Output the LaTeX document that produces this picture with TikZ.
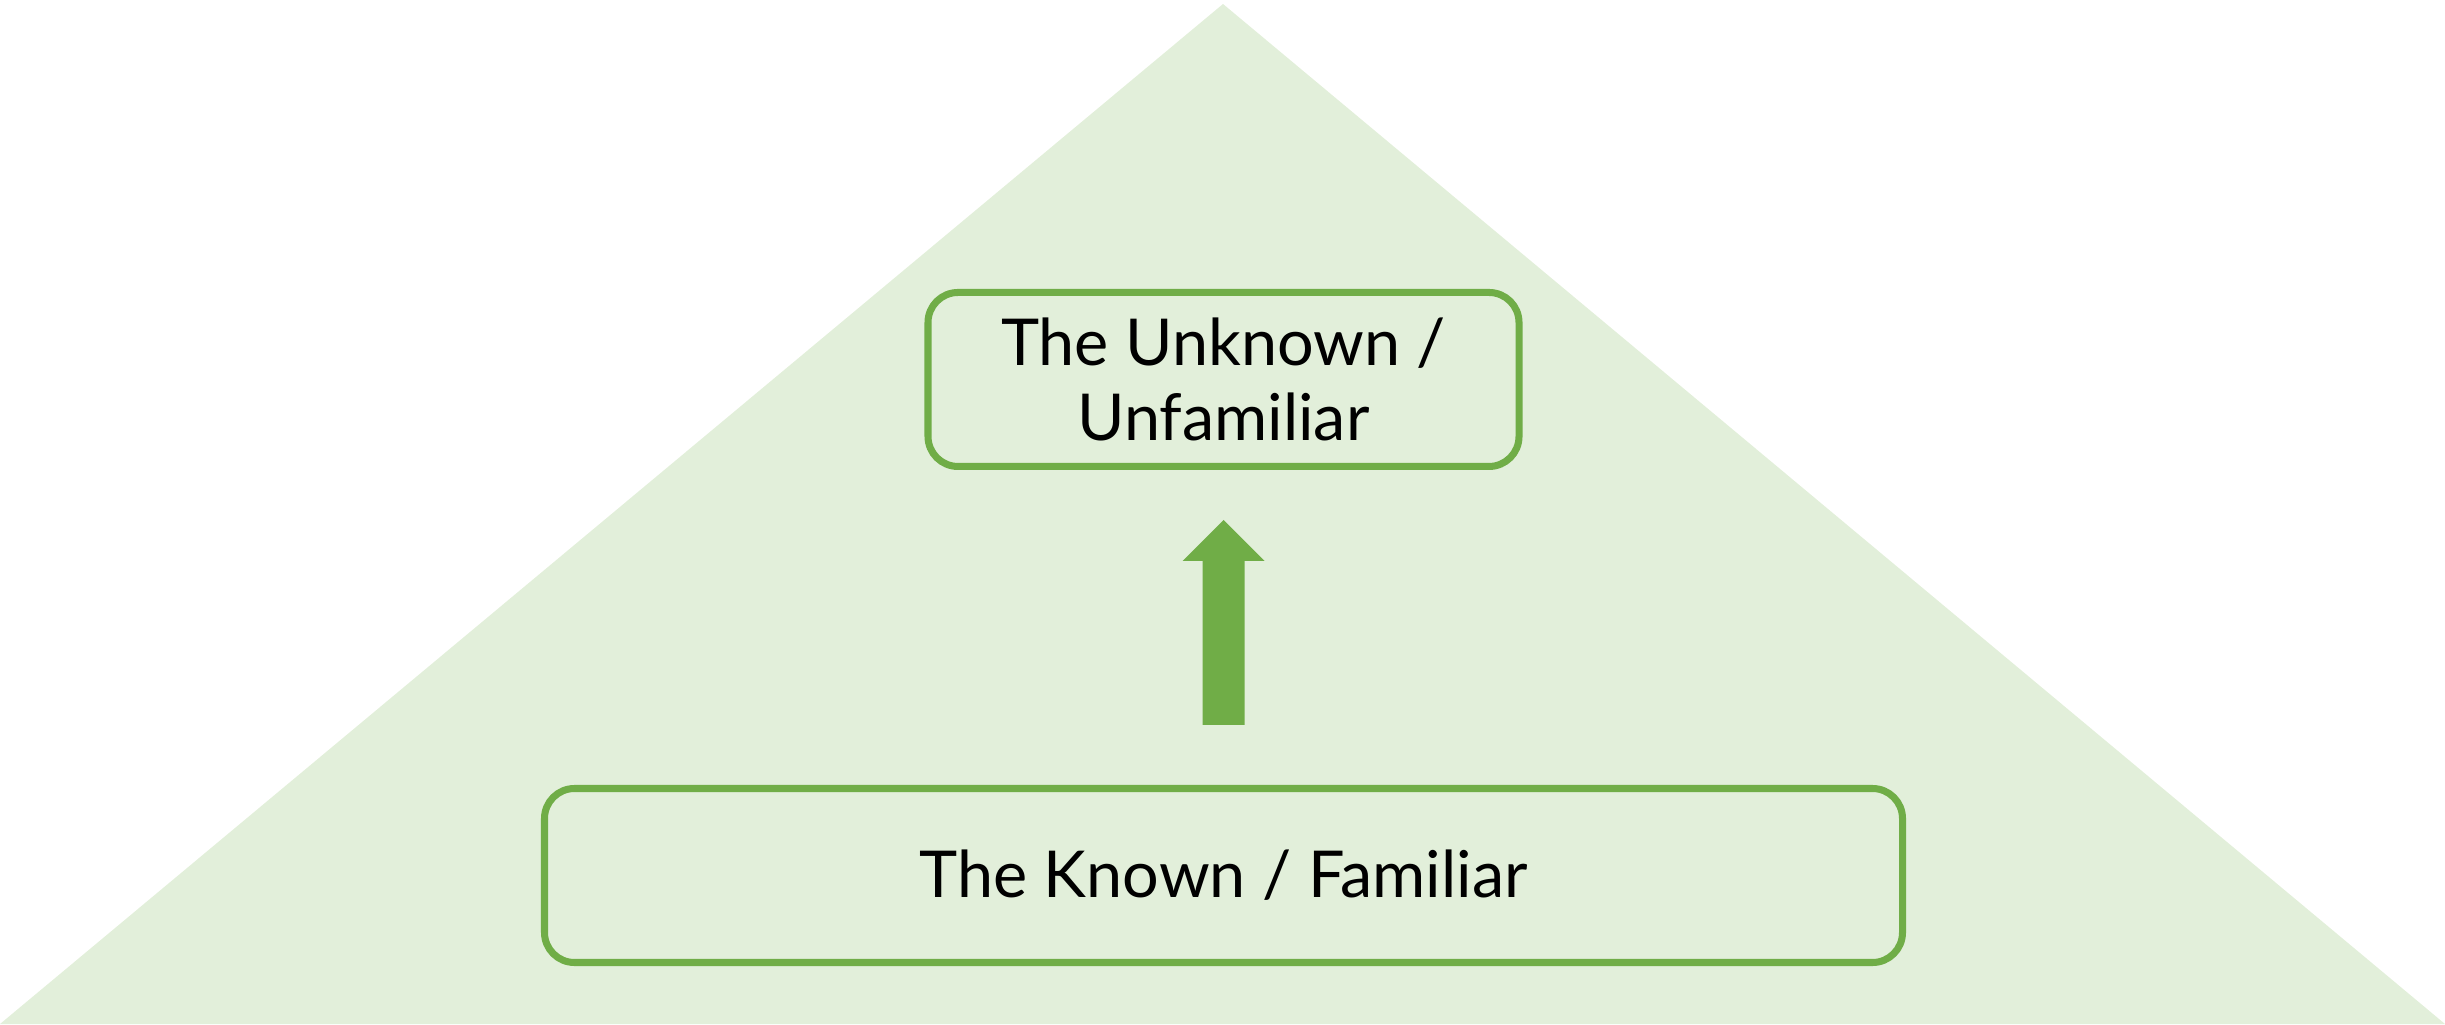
\documentclass[tikz,border=0pt]{standalone}
\usepackage{fontspec}
\setmainfont{Lato}
\usetikzlibrary{positioning}
\definecolor{paleGreen}{HTML}{E2EFDA}
\definecolor{accentGreen}{HTML}{70AD47}
\tikzset{stage/.style={draw=accentGreen, line width=2pt, rounded corners=0.3cm, align=center,
  inner sep=0pt, font=\fontsize{18.4}{21.6}\selectfont}}

\begin{document}
\begin{tikzpicture}
\useasboundingbox (0,0) rectangle (24.45,10.24);
\fill[paleGreen] (0,0) -- (24.45,0) -- (12.23,10.2) -- cycle;

\node[stage, minimum width=13.58cm, minimum height=1.74cm] (known) at (12.235,1.485) {The Known / Familiar};
\node[stage, minimum width=5.91cm, minimum height=1.74cm, above=3.15cm of known] (unknown) {The Unknown /\\Unfamiliar};

\coordinate[above=0.6cm of known] (arrowfoot);
\fill[accentGreen] (arrowfoot) ++(-0.21,0) -- ++(0,1.64) -- ++(-0.2,0) -- ++(0.41,0.41)
  -- ++(0.41,-0.41) -- ++(-0.2,0) -- ++(0,-1.64) -- cycle;
\end{tikzpicture}
\end{document}
